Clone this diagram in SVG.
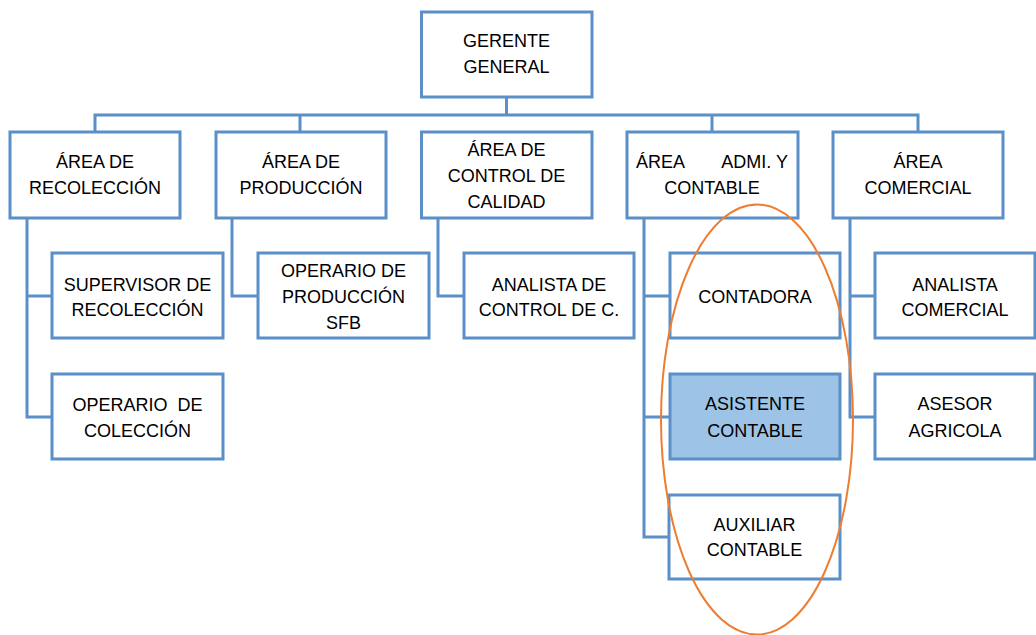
<svg xmlns="http://www.w3.org/2000/svg" width="1036" height="635" viewBox="0 0 1036 635">
<style>
.box{fill:#ffffff;stroke:#5b8fc7;stroke-width:3}
.hl{fill:#9dc3e6}
.ln{fill:none;stroke:#5b8fc7;stroke-width:3}
text{font-family:"Liberation Sans",Arial,sans-serif;font-size:18px;fill:#000;text-anchor:middle}
.oval{fill:none;stroke:#ed7d31;stroke-width:2}
</style>
<rect x="0" y="0" width="1036" height="635" fill="#ffffff"/>
<g id="connectors">
<path class="ln" d="M506.5 97V115M95 132V115H918V132M300 115V132M712 115V132"/>
<path class="ln" d="M27 218V417H52M27 296H52"/>
<path class="ln" d="M232 218V296H258"/>
<path class="ln" d="M438 218V296H464"/>
<path class="ln" d="M644 218V537H669M644 296H670M644 417H670"/>
<path class="ln" d="M850 218V417H875M850 296H875"/>
</g>
<g id="gerente"><rect class="box" x="421.5" y="12" width="170.5" height="85"/><text x="506.5" y="47">GERENTE</text><text x="506.5" y="73">GENERAL</text></g>
<g id="area-recoleccion"><rect class="box" x="10" y="132" width="170" height="86"/><text x="95" y="168">ÁREA DE</text><text x="95" y="194">RECOLECCIÓN</text></g>
<g id="area-produccion"><rect class="box" x="216" y="132" width="170" height="86"/><text x="301" y="168">ÁREA DE</text><text x="301" y="194">PRODUCCIÓN</text></g>
<g id="area-calidad"><rect class="box" x="421.5" y="132" width="170.5" height="86"/><text x="506.5" y="156">ÁREA DE</text><text x="506.5" y="182">CONTROL DE</text><text x="506.5" y="208">CALIDAD</text></g>
<g id="area-admi"><rect class="box" x="627" y="132" width="171" height="86"/><text x="636" y="168" style="text-anchor:start">ÁREA</text><text x="788" y="168" style="text-anchor:end">ADMI. Y</text><text x="712" y="194">CONTABLE</text></g>
<g id="area-comercial"><rect class="box" x="833" y="132" width="170" height="86"/><text x="918" y="168">ÁREA</text><text x="918" y="194">COMERCIAL</text></g>
<g id="supervisor"><rect class="box" x="52" y="253" width="171" height="85"/><text x="137.5" y="291">SUPERVISOR DE</text><text x="137.5" y="316">RECOLECCIÓN</text></g>
<g id="operario-coleccion"><rect class="box" x="52" y="374" width="171" height="85"/><text x="137.5" y="411" xml:space="preserve">OPERARIO  DE</text><text x="137.5" y="437">COLECCIÓN</text></g>
<g id="operario-produccion"><rect class="box" x="258" y="253" width="171" height="85"/><text x="343.5" y="277">OPERARIO DE</text><text x="343.5" y="303">PRODUCCIÓN</text><text x="343.5" y="329">SFB</text></g>
<g id="analista-calidad"><rect class="box" x="464" y="253" width="170" height="85"/><text x="549" y="291">ANALISTA DE</text><text x="549" y="316">CONTROL DE C.</text></g>
<g id="contadora"><rect class="box" x="670" y="253" width="170" height="85"/><text x="755" y="303">CONTADORA</text></g>
<g id="asistente"><rect class="box hl" x="670" y="374" width="170" height="85"/><text x="755" y="410">ASISTENTE</text><text x="755" y="437">CONTABLE</text></g>
<g id="auxiliar"><rect class="box" x="669" y="495" width="171" height="84"/><text x="754.5" y="531">AUXILIAR</text><text x="754.5" y="556">CONTABLE</text></g>
<g id="analista-comercial"><rect class="box" x="875" y="253" width="160" height="85"/><text x="955" y="291">ANALISTA</text><text x="955" y="316">COMERCIAL</text></g>
<g id="asesor"><rect class="box" x="875" y="374" width="160" height="85"/><text x="955" y="410">ASESOR</text><text x="955" y="437">AGRICOLA</text></g>
<ellipse class="oval" cx="757" cy="419.5" rx="96" ry="215"/>
</svg>
